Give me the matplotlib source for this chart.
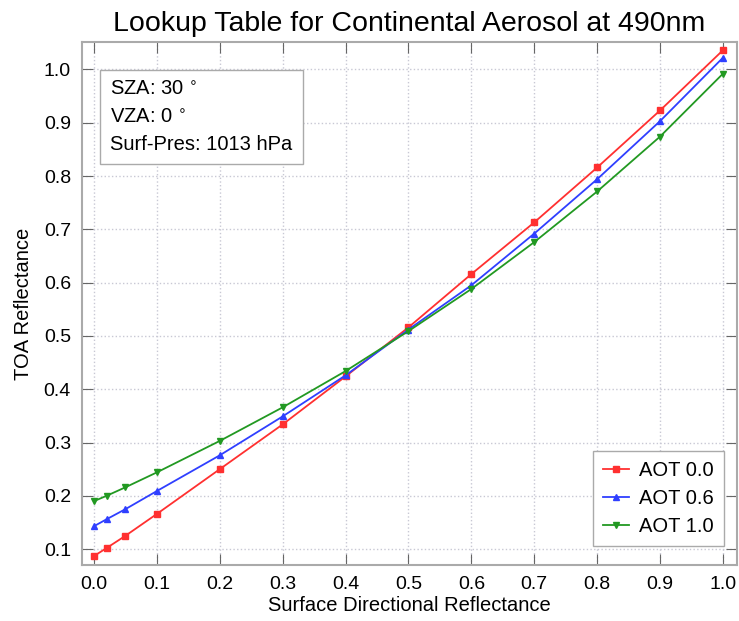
import matplotlib
matplotlib.use('Agg')
import matplotlib.pyplot as plt
from matplotlib.ticker import MultipleLocator

sfc_refl = [0.0, 0.02, 0.05, 0.1, 0.2, 0.3, 0.4, 0.5, 0.6, 0.7, 0.8, 0.9, 1.0]
aot_00 = [0.087, 0.102, 0.125, 0.166, 0.250, 0.334, 0.424, 0.516, 0.616, 0.713, 0.816, 0.923, 1.036]
aot_06 = [0.143, 0.156, 0.175, 0.209, 0.276, 0.349, 0.426, 0.512, 0.595, 0.692, 0.794, 0.903, 1.022]
aot_10 = [0.190, 0.200, 0.216, 0.244, 0.303, 0.366, 0.434, 0.509, 0.588, 0.676, 0.771, 0.874, 0.992]

plt.rcParams['font.family'] = ['Liberation Sans', 'DejaVu Sans']

fig = plt.figure(figsize=(7.39, 6.21), dpi=100)
ax = fig.add_axes([0.111, 0.090, 0.886, 0.842])

ax.plot(sfc_refl, aot_00, color='#ff3030', marker='s', markersize=5, lw=1.3, label='AOT 0.0')
ax.plot(sfc_refl, aot_06, color='#2f3fff', marker='^', markersize=5, lw=1.3, label='AOT 0.6')
ax.plot(sfc_refl, aot_10, color='#229922', marker='v', markersize=5, lw=1.3, label='AOT 1.0')

ax.set_xlim(-0.019, 1.022)
ax.set_ylim(0.07, 1.051)
ax.xaxis.set_major_locator(MultipleLocator(0.1))
ax.yaxis.set_major_locator(MultipleLocator(0.1))
ax.xaxis.set_major_formatter(plt.FormatStrFormatter('%.1f'))
ax.yaxis.set_major_formatter(plt.FormatStrFormatter('%.1f'))
ax.tick_params(direction='in', top=True, right=True, color='#666666', labelsize=14,
               length=8, pad=8)
for s in ax.spines.values():
    s.set_color('#aaaaaa')
    s.set_linewidth(1.5)
ax.grid(True, color='#c8c8d4', linestyle=':', lw=1)

ax.set_xlabel('Surface Directional Reflectance', fontsize=14.5, labelpad=2)
ax.set_ylabel('TOA Reflectance', fontsize=14.5, labelpad=8)
ax.set_title('Lookup Table for Continental Aerosol at 490nm', fontsize=20.5, pad=8)

ax.text(0.043, 0.927, 'SZA: 30 $^{\\circ}$\nVZA: 0 $^{\\circ}$\nSurf-Pres: 1013 hPa',
        transform=ax.transAxes, fontsize=14.5, va='top', linespacing=1.55,
        bbox=dict(boxstyle='square,pad=0.5', fc='white', ec='#aaaaaa'))

leg = ax.legend(loc='lower right', bbox_to_anchor=(0.980, 0.036), borderaxespad=0,
                fontsize=14.5, fancybox=False, edgecolor='#aaaaaa', framealpha=1,
                borderpad=0.5, handlelength=1.3, labelspacing=0.45, handletextpad=0.5)

fig.savefig('out.png', dpi=100)
